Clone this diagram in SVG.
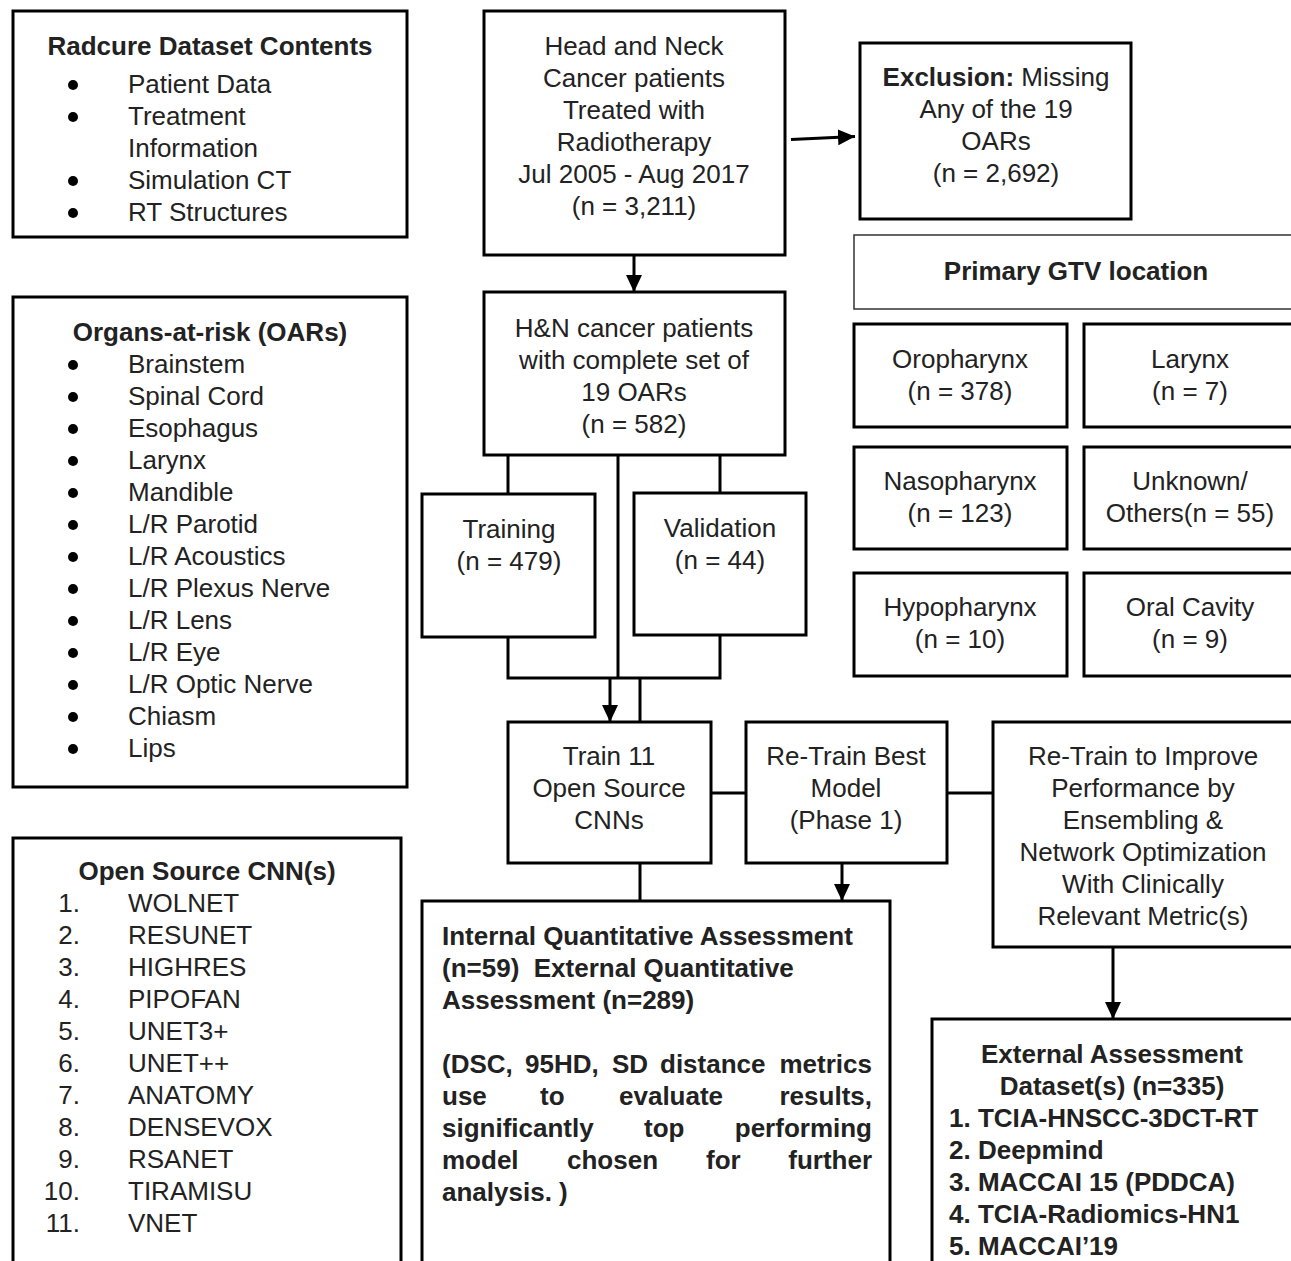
<svg xmlns="http://www.w3.org/2000/svg" width="1291" height="1261" viewBox="0 0 1291 1261">
<style>
.box{fill:#fff;stroke:#000;stroke-width:3}
.thin{fill:#fff;stroke:#333;stroke-width:1.5}
text{font-family:"Liberation Sans",Arial,sans-serif;font-size:26px;fill:#222}
.c{text-anchor:middle}
.e{text-anchor:end}
.b{font-weight:bold}
.con{fill:none;stroke:#000;stroke-width:3}
.blt{fill:#000}
</style>
<defs>
<marker id="ah" markerUnits="userSpaceOnUse" markerWidth="18" markerHeight="16" refX="17" refY="8" orient="auto">
<path d="M0,0 L17,8 L0,16 z" fill="#000"/>
</marker>
</defs>
<rect width="1291" height="1261" fill="#fff"/>

<g id="connectors">
<path class="con" d="M791,139.5 L855,136.5" marker-end="url(#ah)"/>
<path class="con" d="M634,255 L634,292" marker-end="url(#ah)"/>
<path class="con" d="M508,455 L508,494"/>
<path class="con" d="M720,455 L720,493"/>
<path class="con" d="M618,455 L618,678"/>
<path class="con" d="M508,637 L508,678 L720,678 L720,635"/>
<path class="con" d="M610,678 L610,722" marker-end="url(#ah)"/>
<path class="con" d="M640,678 L640,722"/>
<path class="con" d="M711,793 L746,793"/>
<path class="con" d="M947,793 L993,793"/>
<path class="con" d="M640,863 L640,901"/>
<path class="con" d="M842,863 L842,901" marker-end="url(#ah)"/>
<path class="con" d="M1113,947 L1113,1019" marker-end="url(#ah)"/>
</g>

<g id="radcure">
<rect class="box" x="13" y="11" width="394" height="226"/>
<text class="c b" x="210" y="55">Radcure Dataset Contents</text>
<circle class="blt" cx="73" cy="85" r="5"/><text x="128" y="93">Patient Data</text>
<circle class="blt" cx="73" cy="117" r="5"/><text x="128" y="125">Treatment</text>
<text x="128" y="157">Information</text>
<circle class="blt" cx="73" cy="181" r="5"/><text x="128" y="189">Simulation CT</text>
<circle class="blt" cx="73" cy="213" r="5"/><text x="128" y="221">RT Structures</text>
</g>

<g id="oars">
<rect class="box" x="13" y="297" width="394" height="490"/>
<text class="c b" x="210" y="341">Organs-at-risk (OARs)</text>
<circle class="blt" cx="73" cy="365" r="5"/><text x="128" y="373">Brainstem</text>
<circle class="blt" cx="73" cy="397" r="5"/><text x="128" y="405">Spinal Cord</text>
<circle class="blt" cx="73" cy="429" r="5"/><text x="128" y="437">Esophagus</text>
<circle class="blt" cx="73" cy="461" r="5"/><text x="128" y="469">Larynx</text>
<circle class="blt" cx="73" cy="493" r="5"/><text x="128" y="501">Mandible</text>
<circle class="blt" cx="73" cy="525" r="5"/><text x="128" y="533">L/R Parotid</text>
<circle class="blt" cx="73" cy="557" r="5"/><text x="128" y="565">L/R Acoustics</text>
<circle class="blt" cx="73" cy="589" r="5"/><text x="128" y="597">L/R Plexus Nerve</text>
<circle class="blt" cx="73" cy="621" r="5"/><text x="128" y="629">L/R Lens</text>
<circle class="blt" cx="73" cy="653" r="5"/><text x="128" y="661">L/R Eye</text>
<circle class="blt" cx="73" cy="685" r="5"/><text x="128" y="693">L/R Optic Nerve</text>
<circle class="blt" cx="73" cy="717" r="5"/><text x="128" y="725">Chiasm</text>
<circle class="blt" cx="73" cy="749" r="5"/><text x="128" y="757">Lips</text>
</g>

<g id="cnns">
<rect class="box" x="13" y="838" width="388" height="440"/>
<text class="c b" x="207" y="880">Open Source CNN(s)</text>
<text class="e" x="80" y="912">1.</text><text x="128" y="912">WOLNET</text>
<text class="e" x="80" y="944">2.</text><text x="128" y="944">RESUNET</text>
<text class="e" x="80" y="976">3.</text><text x="128" y="976">HIGHRES</text>
<text class="e" x="80" y="1008">4.</text><text x="128" y="1008">PIPOFAN</text>
<text class="e" x="80" y="1040">5.</text><text x="128" y="1040">UNET3+</text>
<text class="e" x="80" y="1072">6.</text><text x="128" y="1072">UNET++</text>
<text class="e" x="80" y="1104">7.</text><text x="128" y="1104">ANATOMY</text>
<text class="e" x="80" y="1136">8.</text><text x="128" y="1136">DENSEVOX</text>
<text class="e" x="80" y="1168">9.</text><text x="128" y="1168">RSANET</text>
<text class="e" x="80" y="1200">10.</text><text x="128" y="1200">TIRAMISU</text>
<text class="e" x="80" y="1232">11.</text><text x="128" y="1232">VNET</text>
</g>

<g id="hn-patients">
<rect class="box" x="484" y="11" width="301" height="244"/>
<text class="c" x="634" y="55">Head and Neck</text>
<text class="c" x="634" y="87">Cancer patients</text>
<text class="c" x="634" y="119">Treated with</text>
<text class="c" x="634" y="151">Radiotherapy</text>
<text class="c" x="634" y="183">Jul 2005 - Aug 2017</text>
<text class="c" x="634" y="215">(n = 3,211)</text>
</g>

<g id="exclusion">
<rect class="box" x="860" y="43" width="271" height="176"/>
<text class="c" x="996" y="86"><tspan class="b">Exclusion:</tspan> Missing</text>
<text class="c" x="996" y="118">Any of the 19</text>
<text class="c" x="996" y="150">OARs</text>
<text class="c" x="996" y="182">(n = 2,692)</text>
</g>

<g id="complete-set">
<rect class="box" x="484" y="292" width="301" height="163"/>
<text class="c" x="634" y="337">H&amp;N cancer patients</text>
<text class="c" x="634" y="369">with complete set of</text>
<text class="c" x="634" y="401">19 OARs</text>
<text class="c" x="634" y="433">(n = 582)</text>
</g>

<g id="gtv-title">
<rect class="thin" x="854" y="235" width="460" height="74"/>
<text class="c b" x="1076" y="280">Primary GTV location</text>
</g>

<g id="oropharynx">
<rect class="box" x="854" y="324" width="213" height="103"/>
<text class="c" x="960" y="368">Oropharynx</text>
<text class="c" x="960" y="400">(n = 378)</text>
</g>
<g id="larynx">
<rect class="box" x="1084" y="324" width="230" height="103"/>
<text class="c" x="1190" y="368">Larynx</text>
<text class="c" x="1190" y="400">(n = 7)</text>
</g>
<g id="nasopharynx">
<rect class="box" x="854" y="447" width="213" height="102"/>
<text class="c" x="960" y="490">Nasopharynx</text>
<text class="c" x="960" y="522">(n = 123)</text>
</g>
<g id="unknown">
<rect class="box" x="1084" y="447" width="230" height="102"/>
<text class="c" x="1190" y="490">Unknown/</text>
<text class="c" x="1190" y="522">Others(n = 55)</text>
</g>
<g id="hypopharynx">
<rect class="box" x="854" y="573" width="213" height="103"/>
<text class="c" x="960" y="616">Hypopharynx</text>
<text class="c" x="960" y="648">(n = 10)</text>
</g>
<g id="oral-cavity">
<rect class="box" x="1084" y="573" width="230" height="103"/>
<text class="c" x="1190" y="616">Oral Cavity</text>
<text class="c" x="1190" y="648">(n = 9)</text>
</g>

<g id="training">
<rect class="box" x="422" y="494" width="173" height="143"/>
<text class="c" x="509" y="538">Training</text>
<text class="c" x="509" y="570">(n = 479)</text>
</g>
<g id="validation">
<rect class="box" x="634" y="493" width="172" height="142"/>
<text class="c" x="720" y="537">Validation</text>
<text class="c" x="720" y="569">(n = 44)</text>
</g>

<g id="train11">
<rect class="box" x="508" y="722" width="203" height="141"/>
<text class="c" x="609" y="765">Train 11</text>
<text class="c" x="609" y="797">Open Source</text>
<text class="c" x="609" y="829">CNNs</text>
</g>
<g id="retrain-best">
<rect class="box" x="746" y="722" width="201" height="141"/>
<text class="c" x="846" y="765">Re-Train Best</text>
<text class="c" x="846" y="797">Model</text>
<text class="c" x="846" y="829">(Phase 1)</text>
</g>
<g id="retrain-improve">
<rect class="box" x="993" y="722" width="320" height="225"/>
<text class="c" x="1143" y="765">Re-Train to Improve</text>
<text class="c" x="1143" y="797">Performance by</text>
<text class="c" x="1143" y="829">Ensembling &amp;</text>
<text class="c" x="1143" y="861">Network Optimization</text>
<text class="c" x="1143" y="893">With Clinically</text>
<text class="c" x="1143" y="925">Relevant Metric(s)</text>
</g>

<g id="internal-assessment">
<rect class="box" x="422" y="901" width="468" height="380"/>
<text class="b" x="442" y="945">Internal Quantitative Assessment</text>
<text class="b" x="442" y="977" xml:space="preserve">(n=59)  External Quantitative</text>
<text class="b" x="442" y="1009">Assessment (n=289)</text>
<text class="b" x="442" y="1073">(DSC,</text><text class="b" x="525" y="1073">95HD,</text><text class="b" x="612" y="1073">SD</text><text class="b" x="660" y="1073">distance</text><text class="b e" x="872" y="1073">metrics</text>
<text class="b" x="442" y="1105">use</text><text class="b" x="540" y="1105">to</text><text class="b" x="619" y="1105">evaluate</text><text class="b e" x="872" y="1105">results,</text>
<text class="b" x="442" y="1137">significantly</text><text class="b" x="644" y="1137">top</text><text class="b e" x="872" y="1137">performing</text>
<text class="b" x="442" y="1169">model</text><text class="b" x="567" y="1169">chosen</text><text class="b" x="706" y="1169">for</text><text class="b e" x="872" y="1169">further</text>
<text class="b" x="442" y="1201">analysis. )</text>
</g>

<g id="external-datasets">
<rect class="box" x="932" y="1019" width="380" height="260"/>
<text class="c b" x="1112" y="1063">External Assessment</text>
<text class="c b" x="1112" y="1095">Dataset(s) (n=335)</text>
<text class="b" x="949" y="1127">1. TCIA-HNSCC-3DCT-RT</text>
<text class="b" x="949" y="1159">2. Deepmind</text>
<text class="b" x="949" y="1191">3. MACCAI 15 (PDDCA)</text>
<text class="b" x="949" y="1223">4. TCIA-Radiomics-HN1</text>
<text class="b" x="949" y="1255">5. MACCAI’19</text>
</g>
</svg>
